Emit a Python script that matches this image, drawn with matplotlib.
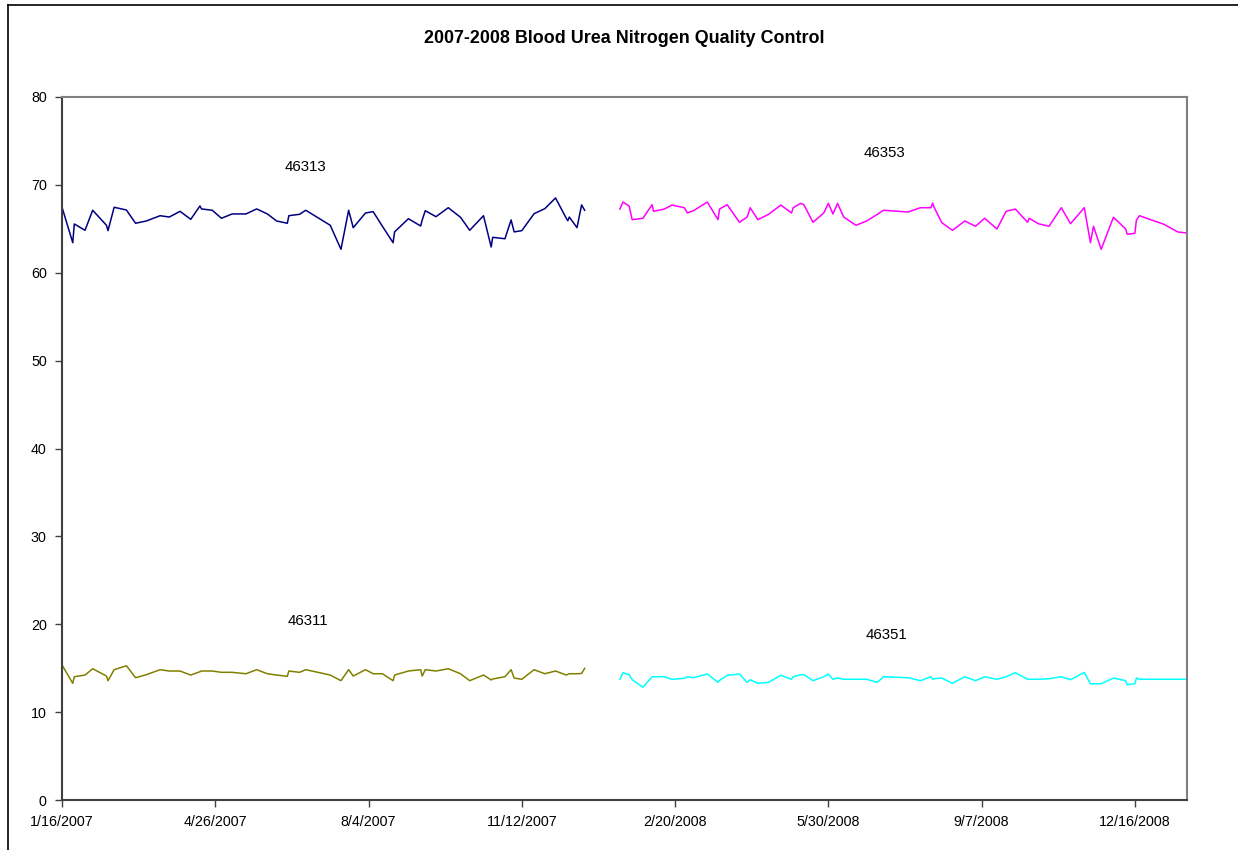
import pandas as pd
import matplotlib.pyplot as plt
from matplotlib.lines import Line2D

plt.rcParams['font.family'] = ['Liberation Sans', 'DejaVu Sans']

# QC run dates, 2007 lots (46313 / 46311)
dates_2007 = [
    '2007-01-16', '2007-01-23', '2007-01-24', '2007-01-31', '2007-02-05',
    '2007-02-14', '2007-02-15', '2007-02-19', '2007-02-27', '2007-03-05',
    '2007-03-12', '2007-03-21', '2007-03-27', '2007-04-03', '2007-04-10',
    '2007-04-16', '2007-04-17', '2007-04-24', '2007-04-30', '2007-05-07',
    '2007-05-16', '2007-05-23', '2007-05-30', '2007-06-05', '2007-06-12',
    '2007-06-13', '2007-06-20', '2007-06-24', '2007-07-02', '2007-07-10',
    '2007-07-17', '2007-07-22', '2007-07-25', '2007-08-02', '2007-08-07',
    '2007-08-13', '2007-08-20', '2007-08-21', '2007-08-30', '2007-09-07',
    '2007-09-08', '2007-09-10', '2007-09-17', '2007-09-25', '2007-10-03',
    '2007-10-09', '2007-10-18', '2007-10-23', '2007-10-24', '2007-11-01',
    '2007-11-05', '2007-11-07', '2007-11-12', '2007-11-20', '2007-11-27',
    '2007-12-04', '2007-12-11', '2007-12-12', '2007-12-13', '2007-12-18',
    '2007-12-21', '2007-12-23',
]

bun_46313 = [
    67.45, 63.42, 65.55, 64.83, 67.11, 65.40, 64.79, 67.45, 67.14, 65.63,
    65.89, 66.49, 66.34, 66.99, 66.08, 67.60, 67.26, 67.11, 66.20, 66.69,
    66.69, 67.26, 66.69, 65.89, 65.63, 66.49, 66.65, 67.11, 66.26, 65.40,
    62.67, 67.11, 65.13, 66.80, 66.95, 65.30, 63.42, 64.65, 66.15, 65.32,
    66.00, 67.06, 66.38, 67.40, 66.31, 64.83, 66.49, 62.93, 64.03, 63.87,
    66.01, 64.65, 64.79, 66.72, 67.29, 68.51, 66.20, 65.92, 66.34, 65.13,
    67.72, 67.11,
]

bun_46311 = [
    15.36, 13.28, 14.03, 14.22, 14.94, 14.11, 13.58, 14.83, 15.28, 13.92,
    14.26, 14.83, 14.68, 14.68, 14.22, 14.60, 14.68, 14.68, 14.53, 14.53,
    14.37, 14.83, 14.37, 14.22, 14.08, 14.68, 14.53, 14.83, 14.53, 14.22,
    13.58, 14.83, 14.11, 14.83, 14.37, 14.37, 13.58, 14.22, 14.68, 14.83,
    14.11, 14.83, 14.68, 14.94, 14.37, 13.58, 14.22, 13.66, 13.77, 14.03,
    14.83, 13.88, 13.74, 14.83, 14.37, 14.68, 14.22, 14.30, 14.37, 14.37,
    14.40, 14.99,
]

# QC run dates, 2008 lots (46353 / 46351)
dates_2008 = [
    '2008-01-15', '2008-01-17', '2008-01-21', '2008-01-23', '2008-01-30',
    '2008-02-05', '2008-02-06', '2008-02-13', '2008-02-18', '2008-02-26',
    '2008-02-28', '2008-03-03', '2008-03-12', '2008-03-19', '2008-03-20',
    '2008-03-25', '2008-04-02', '2008-04-07', '2008-04-09', '2008-04-14',
    '2008-04-21', '2008-04-29', '2008-05-06', '2008-05-07', '2008-05-12',
    '2008-05-14', '2008-05-20', '2008-05-27', '2008-05-30', '2008-06-02',
    '2008-06-05', '2008-06-09', '2008-06-17', '2008-06-24', '2008-07-01',
    '2008-07-05', '2008-07-21', '2008-07-29', '2008-08-05', '2008-08-06',
    '2008-08-07', '2008-08-12', '2008-08-19', '2008-08-27', '2008-09-03',
    '2008-09-09', '2008-09-17', '2008-09-23', '2008-09-29', '2008-10-07',
    '2008-10-08', '2008-10-14', '2008-10-21', '2008-10-29', '2008-11-04',
    '2008-11-13', '2008-11-17', '2008-11-19', '2008-11-24', '2008-12-02',
    '2008-12-10', '2008-12-11', '2008-12-16', '2008-12-17', '2008-12-19',
    '2009-01-04', '2009-01-13', '2009-01-19',
]

bun_46353 = [
    67.25, 68.05, 67.59, 66.04, 66.20, 67.74, 66.99, 67.25, 67.70, 67.40,
    66.80, 67.06, 68.05, 66.04, 67.25, 67.74, 65.74, 66.34, 67.40, 66.04,
    66.65, 67.70, 66.80, 67.40, 67.90, 67.74, 65.74, 66.80, 67.90, 66.69,
    67.90, 66.34, 65.40, 65.89, 66.65, 67.11, 66.91, 67.40, 67.40, 67.93,
    67.45, 65.70, 64.83, 65.89, 65.29, 66.20, 64.98, 66.99, 67.25, 65.74,
    66.20, 65.58, 65.29, 67.40, 65.58, 67.40, 63.42, 65.29, 62.67, 66.31,
    64.98, 64.38, 64.49, 66.00, 66.49, 65.51, 64.64, 64.52,
]

bun_46351 = [
    13.74, 14.49, 14.26, 13.69, 12.83, 14.03, 14.03, 14.03, 13.74, 13.85,
    14.03, 13.92, 14.34, 13.39, 13.60, 14.19, 14.34, 13.39, 13.69, 13.28,
    13.39, 14.19, 13.74, 14.03, 14.26, 14.26, 13.58, 14.03, 14.34, 13.74,
    13.88, 13.74, 13.74, 13.74, 13.39, 14.03, 13.92, 13.58, 14.03, 13.74,
    13.80, 13.88, 13.28, 14.03, 13.58, 14.03, 13.74, 14.03, 14.49, 13.74,
    13.74, 13.74, 13.80, 14.03, 13.69, 14.51, 13.23, 13.23, 13.23, 13.88,
    13.58, 13.12, 13.23, 13.88, 13.74, 13.74, 13.74, 13.74,
]

x_tick_labels = ['1/16/2007', '4/26/2007', '8/4/2007', '11/12/2007',
                 '2/20/2008', '5/30/2008', '9/7/2008', '12/16/2008']
y_ticks = [0, 10, 20, 30, 40, 50, 60, 70, 80]

d07 = pd.to_datetime(dates_2007)
d08 = pd.to_datetime(dates_2008)
tick_dates = pd.to_datetime(x_tick_labels, format='%m/%d/%Y')

fig = plt.figure(figsize=(12.38, 8.5), dpi=100)
ax = fig.add_axes([0.0501, 0.0588, 0.9087, 0.8271])

lw = 1.1
ax.plot(d07, bun_46313, color='#000080', lw=lw)
ax.plot(d07, bun_46311, color='#808000', lw=lw)
ax.plot(d08, bun_46353, color='#FF00FF', lw=lw)
ax.plot(d08, bun_46351, color='#00FFFF', lw=lw)

# series labels
lab_fs = 10.8
ax.text(0.216, 0.900, '46313', transform=ax.transAxes, ha='center', va='center', fontsize=lab_fs)
ax.text(0.731, 0.920, '46353', transform=ax.transAxes, ha='center', va='center', fontsize=lab_fs)
ax.text(0.219, 0.255, '46311', transform=ax.transAxes, ha='center', va='center', fontsize=lab_fs)
ax.text(0.733, 0.235, '46351', transform=ax.transAxes, ha='center', va='center', fontsize=lab_fs)

ax.set_xlim(d07[0], d08[-1])
ax.set_ylim(0, 80)
ax.set_yticks(y_ticks)
ax.set_xticks(tick_dates)
ax.set_xticklabels(x_tick_labels)
ax.tick_params(axis='both', direction='out', length=5, width=1, color='#404040',
               labelsize=10.3, pad=6)

for side in ['left', 'bottom']:
    ax.spines[side].set_color('#404040')
    ax.spines[side].set_linewidth(1.5)
for side in ['top', 'right']:
    ax.spines[side].set_color('#808080')
    ax.spines[side].set_linewidth(1.5)

fig.text(0.504, 0.955, '2007-2008 Blood Urea Nitrogen Quality Control',
         ha='center', va='center', fontsize=12.9, fontweight='bold')

# outer chart border
fig.add_artist(Line2D([8 / 1238, 8 / 1238], [0, 1 - 5 / 850], transform=fig.transFigure,
                      color='black', lw=1.2))
fig.add_artist(Line2D([8 / 1238, 1], [1 - 5 / 850, 1 - 5 / 850], transform=fig.transFigure,
                      color='black', lw=1.2))

fig.savefig('out.png', dpi=100)
